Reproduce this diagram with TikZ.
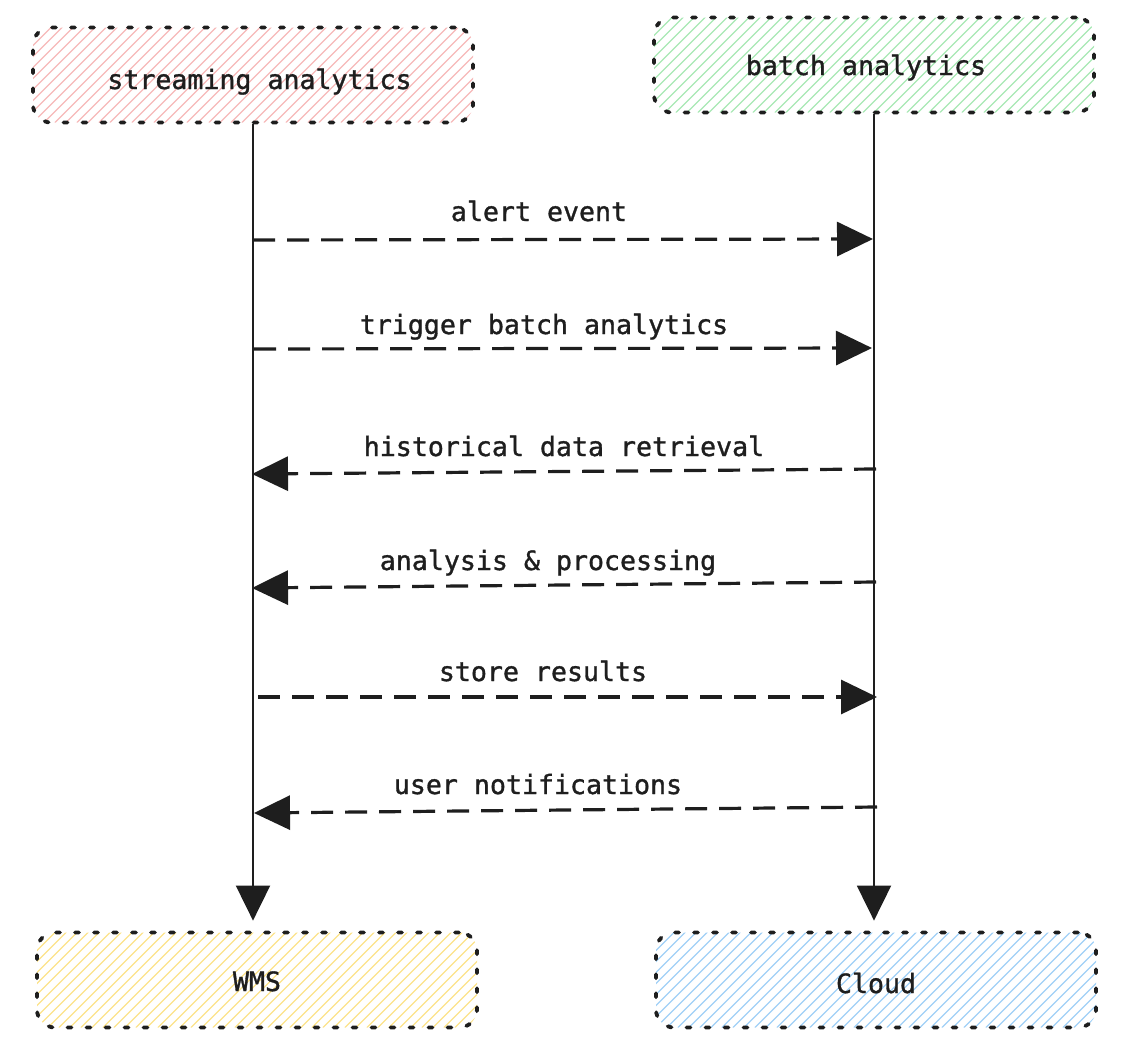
\documentclass[tikz,border=0pt]{standalone}
\usepackage{fontspec}
\newfontfamily\monof{DejaVu Sans Mono}[FakeBold=1.2]
\usetikzlibrary{arrows.meta,calc}
\definecolor{ink}{HTML}{1E1E1E}
\definecolor{hpink}{HTML}{F6B8B8}
\definecolor{hgreen}{HTML}{A8E8B4}
\definecolor{hyellow}{HTML}{FCE28A}
\definecolor{hblue}{HTML}{A0D0F6}
\newcommand{\boxtext}[2]{\raisebox{#1}[0pt][0pt]{#2}}
\tikzset{
  actor/.style={draw=ink, line width=3.8pt, dash pattern=on 4pt off 15pt, line cap=round,
    rounded corners=18pt, minimum width=440pt, minimum height=95pt,
    text=ink, font=\monof\fontsize{26.6}{30}\selectfont,
    path picture={\foreach \i in {-110,-99,...,450}
      \draw[#1, line width=1.1pt, solid] ($(path picture bounding box.south west)+(\i,0)$) -- ++(120,-120);}},
  lifeline/.style={draw=ink, line width=2pt, -{Triangle[length=35pt,width=34pt]}},
  msg/.style={draw=ink, line width=3.2pt, dash pattern=on 22pt off 12pt,
    -{Triangle[length=36pt,width=34pt]}},
  msglabel/.style={text=ink, font=\monof\fontsize{26.6}{30}\selectfont, anchor=base, inner sep=0pt}
}
\begin{document}
\begin{tikzpicture}[x=1pt,y=-1pt]
\useasboundingbox (0,0) rectangle (1130,1060);
\node[actor=hpink] (s) at (253,75) {\boxtext{-14pt}{\hspace*{13pt}streaming analytics}};
\node[actor=hgreen] (b) at (874,65) {\boxtext{-10pt}{batch analytics\hspace*{16pt}}};
\node[actor=hyellow] (w) at (257,980) {\boxtext{-11pt}{WMS}};
\node[actor=hblue] (c) at (876,980) {\boxtext{-13pt}{Cloud}};

\draw[lifeline, shorten >=10pt] (s.south) -- (s.south |- w.north);
\draw[lifeline, shorten >=10pt] (b.south) -- (b.south |- c.north);

\coordinate (l1) at (253,240); \coordinate (r1) at (873,239);
\coordinate (l2) at (254,349); \coordinate (r2) at (872,348);
\coordinate (l3) at (252,474); \coordinate (r3) at (876,469);
\coordinate (l4) at (252,588); \coordinate (r4) at (876,582);
\coordinate (l5) at (258,697); \coordinate (r5) at (877,697);
\coordinate (l6) at (254,813); \coordinate (r6) at (877,807);

\draw[msg] (l1) -- (r1);
\draw[msg] (l2) -- (r2);
\draw[msg] (r3) -- (l3);
\draw[msg] (r4) -- (l4);
\draw[msg] (l5) -- (r5);
\draw[msg] (r6) -- (l6);

\node[msglabel] (t1) at (539,221) {alert event};
\node[msglabel] (t2) at (544,334) {trigger batch analytics};
\node[msglabel] (t3) at (564,456) {historical data retrieval};
\node[msglabel] (t4) at (548,570) {analysis \& processing};
\node[msglabel] (t5) at (543,681) {store results};
\node[msglabel] (t6) at (538,794) {user notifications};
\end{tikzpicture}
\end{document}
